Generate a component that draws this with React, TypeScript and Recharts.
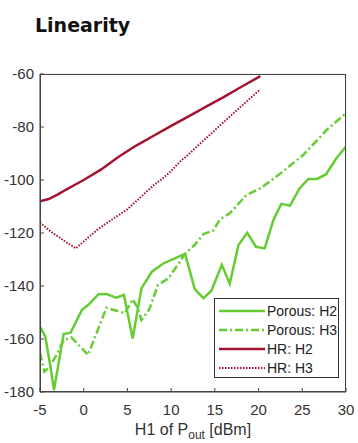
import React from 'react';
import { LineChart, Line, XAxis, YAxis, CartesianGrid } from 'recharts';

// [H1 Pout (dBm), level (dBm)]
const porousH2: [number, number][] = [
  [-5, -155.4], [-4.4, -159], [-3.9, -168.6], [-3.4, -179.3], [-2.3, -158.1],
  [-1.5, -157.6], [-0.2, -149], [0.5, -147.2], [1.7, -143.1], [2.6, -143],
  [3.7, -144.4], [4.6, -143.4], [5.6, -159.8], [6.6, -140.9], [7.8, -134.6],
  [9.1, -131.5], [11, -128.7], [11.6, -127.9], [12.7, -141.2], [13.7, -144.6],
  [14.6, -141.8], [15.8, -132], [16.7, -139.2], [17.7, -124.5], [18.7, -119.9],
  [19.7, -125.2], [20.7, -125.8], [21.7, -115.1], [22.6, -109], [23.6, -109.7],
  [24.7, -103.1], [25.7, -99.6], [26.7, -99.6], [27.7, -97.9], [28.9, -91.8],
  [30, -87.4],
];

const porousH3: [number, number][] = [
  [-5, -165.2], [-4.5, -172.3], [-3.9, -170.4], [-3.1, -166], [-2.3, -160.4],
  [-1.4, -159.4], [0.5, -166], [2.6, -148.2], [4.7, -150.3], [5.6, -145],
  [6.2, -148.4], [6.6, -152.8], [7.5, -148.8], [8.5, -139.6], [9.7, -137.1],
  [11, -130.8], [11.6, -127.8], [12.7, -124.5], [13.7, -120.4], [14.8, -119.1],
  [15.6, -114.8], [16.7, -112.6], [18.6, -105.7], [20.2, -103.2], [22.5, -97.5],
  [25.1, -90.6], [27.8, -81.1], [30, -74.8],
];

const hrH2: [number, number][] = [
  [-5, -108], [-4, -107.2], [-3, -105.5], [-2, -103.6], [-1, -101.8], [0, -100],
  [2, -96], [4, -91.2], [6, -87], [8, -83.3], [10, -79.6], [12, -76],
  [14, -72.3], [16, -68.7], [18, -64.9], [20.2, -60.8],
];

const hrH3: [number, number][] = [
  [-5, -116], [-4, -118.9], [-3, -121.2], [-2, -123.5], [-0.9, -125.8],
  [0, -123.2], [1.5, -118.9], [3, -115.4], [4.9, -111.3], [6, -108],
  [7, -105], [8, -102], [9, -99.5], [9.9, -96.9], [11, -93.1], [12, -90.3],
  [14, -84.2], [16, -78.2], [18, -72.2], [20.2, -65.8],
];

const xTicks = [-5, 0, 5, 10, 15, 20, 25, 30];
const yTicks = [-180, -160, -140, -120, -100, -80, -60];

const GREEN = '#66cc33';
const RED = '#a2142f';

const toPts = (arr: [number, number][]) => arr.map(([x, y]) => ({ x, y }));

const series = [
  { name: 'Porous: H2', data: toPts(porousH2), color: GREEN, dash: undefined, width: 2.5 },
  { name: 'Porous: H3', data: toPts(porousH3), color: GREEN, dash: '8 3 2 3', width: 2.5 },
  { name: 'HR: H2', data: toPts(hrH2), color: RED, dash: undefined, width: 2.5 },
  { name: 'HR: H3', data: toPts(hrH3), color: RED, dash: '1.5 1.5', width: 2 },
];

const font = 'Liberation Sans, Arial, sans-serif';

function LegendBox() {
  return (
    <div
      style={{
        position: 'absolute',
        left: 214,
        top: 298,
        boxSizing: 'border-box',
        width: 125,
        height: 80,
        padding: '2px 0',
        background: '#fff',
        border: '1px solid #333',
        fontFamily: font,
        fontSize: 14,
        color: '#222',
        whiteSpace: 'nowrap',
      }}
    >
      {series.map((s) => (
        <div key={s.name} style={{ display: 'flex', alignItems: 'center', height: 19 }}>
          <svg width={50} height={10} style={{ marginLeft: 2, flex: 'none' }}>
            <line x1={2} y1={5} x2={48} y2={5} stroke={s.color} strokeWidth={s.width} strokeDasharray={s.dash} />
          </svg>
          <span>{s.name}</span>
        </div>
      ))}
    </div>
  );
}

export default function App() {
  const tickStyle = { fontSize: 15, fill: '#333', fontFamily: font };
  return (
    <div style={{ position: 'absolute', left: 0, top: 0, width: 358, height: 443, background: '#fff' }}>
      <div
        style={{
          position: 'absolute',
          left: 35,
          top: 14,
          fontFamily: 'DejaVu Sans, sans-serif',
          fontWeight: 'bold',
          fontSize: 19,
          color: '#111',
        }}
      >
        Linearity
      </div>
      <LineChart width={358} height={443} margin={{ top: 74, right: 12, bottom: 0, left: 0 }}>
        <CartesianGrid stroke="#e4e4e4" strokeWidth={1} />
        <XAxis
          xAxisId="b"
          type="number"
          dataKey="x"
          domain={[-5, 30]}
          ticks={xTicks}
          allowDataOverflow
          height={51}
          tick={tickStyle}
          tickSize={-4}
          tickMargin={16}
          stroke="#444"
        />
        <XAxis xAxisId="t" orientation="top" type="number" domain={[-5, 30]} ticks={xTicks} height={0} tick={false} tickSize={-4} stroke="#444" />
        <YAxis
          yAxisId="l"
          type="number"
          domain={[-180, -60]}
          ticks={yTicks}
          width={40}
          tick={tickStyle}
          tickSize={-4}
          tickMargin={10}
          stroke="#444"
          allowDataOverflow
        />
        <YAxis yAxisId="r" orientation="right" type="number" domain={[-180, -60]} ticks={yTicks} width={0} tick={false} tickSize={-4} stroke="#444" />
        {series.map((s) => (
          <Line
            key={s.name}
            xAxisId="b"
            yAxisId="l"
            data={s.data}
            dataKey="y"
            name={s.name}
            type="linear"
            stroke={s.color}
            strokeWidth={s.width}
            strokeDasharray={s.dash}
            dot={false}
            activeDot={false}
            isAnimationActive={false}
          />
        ))}
      </LineChart>
      <div
        style={{
          position: 'absolute',
          left: 40,
          top: 74,
          width: 306,
          height: 318,
          boxSizing: 'border-box',
          border: '1px solid #444',
          pointerEvents: 'none',
        }}
      />
      <LegendBox />
      <div
        style={{
          position: 'absolute',
          left: 0,
          width: 386,
          top: 421,
          textAlign: 'center',
          fontFamily: font,
          fontSize: 16,
          color: '#333',
        }}
      >
        H1 of P<sub style={{ fontSize: 12 }}>out</sub> [dBm]
      </div>
    </div>
  );
}
